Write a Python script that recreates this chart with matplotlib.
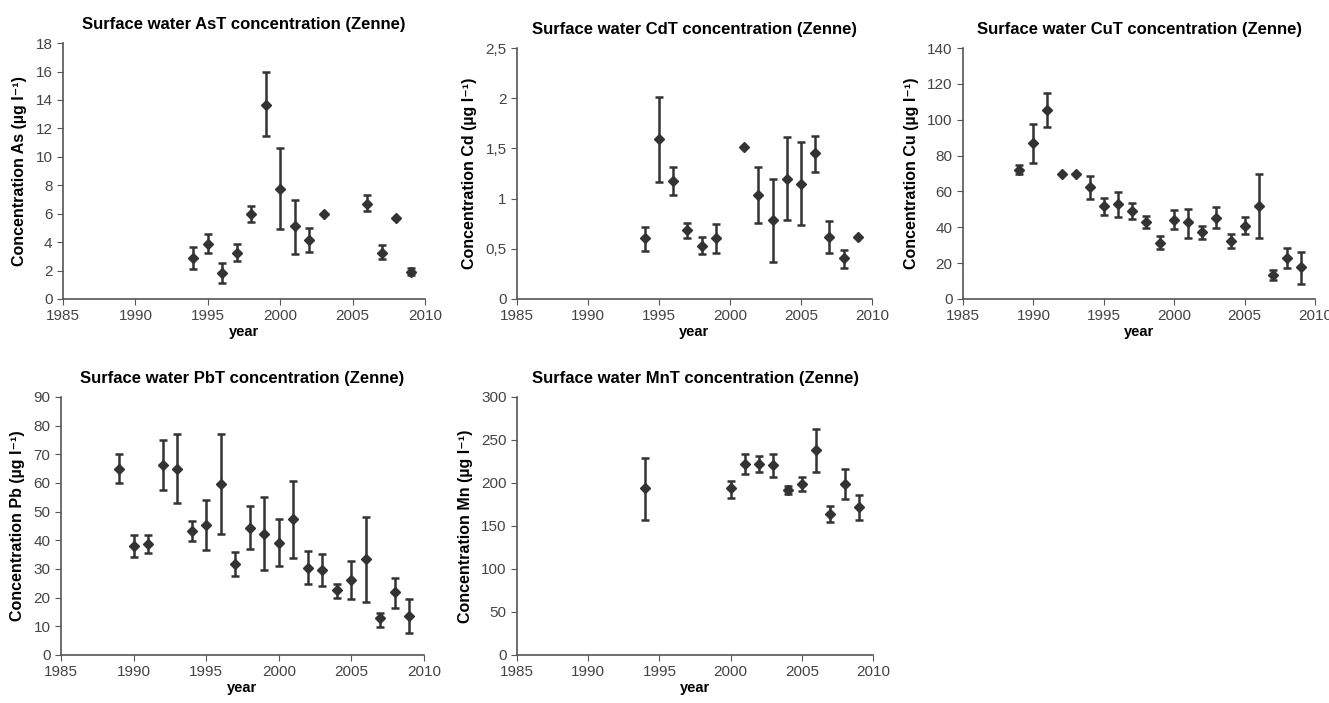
import matplotlib
matplotlib.use("Agg")
import matplotlib.pyplot as plt
from matplotlib.ticker import FuncFormatter

plt.rcParams['font.family'] = ['Liberation Sans', 'DejaVu Sans']

# As (ug/l)
as_years = [1994, 1995, 1996, 1997, 1998, 1999, 2000, 2001, 2002, 2003, 2006, 2007, 2008, 2009]
as_mean = [2.86, 3.85, 1.8, 3.2, 6.0, 13.64, 7.77, 5.1, 4.15, 6.0, 6.7, 3.26, 5.73, 1.92]
as_hi = [3.64, 4.55, 2.56, 3.87, 6.57, 15.94, 10.6, 6.97, 4.98, 6.0, 7.28, 3.8, 5.73, 2.2]
as_lo = [2.11, 3.2, 1.1, 2.7, 5.4, 11.43, 4.95, 3.17, 3.29, 6.0, 6.22, 2.8, 5.73, 1.7]

# Cd
cd_years = [1994, 1995, 1996, 1997, 1998, 1999, 2001, 2002, 2003, 2004, 2005, 2006, 2007, 2008, 2009]
cd_mean = [0.61, 1.59, 1.18, 0.69, 0.53, 0.61, 1.51, 1.04, 0.79, 1.20, 1.15, 1.45, 0.62, 0.41, 0.62]
cd_hi = [0.72, 2.01, 1.31, 0.76, 0.62, 0.75, 1.51, 1.31, 1.20, 1.61, 1.56, 1.62, 0.78, 0.49, 0.62]
cd_lo = [0.48, 1.17, 1.04, 0.61, 0.45, 0.46, 1.51, 0.76, 0.37, 0.79, 0.74, 1.26, 0.46, 0.31, 0.62]

# Cu
cu_years = [1989, 1990, 1991, 1992, 1993, 1994, 1995, 1996, 1997, 1998, 1999,
            2000, 2001, 2002, 2003, 2004, 2005, 2006, 2007, 2008, 2009]
cu_mean = [72.2, 87.1, 105.6, 69.8, 69.8, 62.2, 52.0, 52.9, 49.2, 43.1, 31.0,
           44.0, 42.7, 37.1, 44.9, 32.3, 40.8, 51.8, 13.4, 23.0, 18.0]
cu_hi = [74.6, 97.8, 115.1, 69.8, 69.8, 68.7, 56.6, 59.8, 53.7, 46.2, 35.1,
         49.6, 50.1, 40.7, 51.1, 36.0, 45.9, 70.0, 16.2, 28.6, 26.4]
cu_lo = [70.0, 75.9, 96.0, 69.8, 69.8, 55.5, 46.8, 45.5, 44.4, 39.7, 27.7,
         38.8, 34.2, 33.6, 39.4, 28.6, 36.0, 33.8, 10.6, 17.1, 8.4]

# Pb
pb_years = [1989, 1990, 1991, 1992, 1993, 1994, 1995, 1996, 1997, 1998, 1999,
            2000, 2001, 2002, 2003, 2004, 2005, 2006, 2007, 2008, 2009]
pb_mean = [65.0, 38.1, 38.7, 66.4, 65.0, 43.1, 45.4, 59.7, 31.7, 44.2, 42.3,
           39.2, 47.5, 30.5, 29.5, 22.7, 26.2, 33.4, 12.8, 21.9, 13.6]
pb_hi = [70.1, 41.7, 41.7, 75.1, 77.2, 46.7, 53.9, 77.2, 35.9, 51.8, 55.2,
         47.4, 60.8, 36.2, 35.3, 24.6, 32.8, 48.3, 14.8, 27.0, 19.4]
pb_lo = [60.0, 34.3, 35.5, 57.4, 53.0, 39.6, 36.7, 42.3, 27.4, 36.9, 29.7,
         30.9, 34.0, 24.7, 24.1, 20.0, 19.4, 18.6, 9.9, 16.5, 7.6]

# Mn
mn_years = [1994, 2000, 2001, 2002, 2003, 2004, 2005, 2006, 2007, 2008, 2009]
mn_mean = [193.6, 193.6, 221.8, 221.8, 220.7, 191.6, 199.4, 238.1, 163.8, 198.6, 171.5]
mn_hi = [229.6, 202.1, 233.4, 231.1, 233.4, 196.7, 207.1, 263.3, 173.8, 216.8, 185.8]
mn_lo = [156.8, 183.1, 210.2, 212.5, 207.1, 187.0, 190.9, 212.9, 154.5, 180.8, 156.8]

panels = [
    ("Surface water AsT concentration (Zenne)", "Concentration As (µg l⁻¹)",
     as_years, as_mean, as_hi, as_lo, 18, 2, [0.0474, 0.5747, 0.2724, 0.364]),
    ("Surface water CdT concentration (Zenne)", "Concentration Cd (µg l⁻¹)",
     cd_years, cd_mean, cd_hi, cd_lo, 2.5, 0.5, [0.389, 0.5747, 0.2671, 0.357]),
    ("Surface water CuT concentration (Zenne)", "Concentration Cu (µg l⁻¹)",
     cu_years, cu_mean, cu_hi, cu_lo, 140, 20, [0.7246, 0.5747, 0.2649, 0.357]),
    ("Surface water PbT concentration (Zenne)", "Concentration Pb (µg l⁻¹)",
     pb_years, pb_mean, pb_hi, pb_lo, 90, 10, [0.0459, 0.0683, 0.2731, 0.367]),
    ("Surface water MnT concentration (Zenne)", "Concentration Mn (µg l⁻¹)",
     mn_years, mn_mean, mn_hi, mn_lo, 300, 50, [0.389, 0.0683, 0.2679, 0.367]),
]

def comma_fmt(v, pos):
    s = ("%g" % v)
    return s.replace(".", ",")

fig = plt.figure(figsize=(13.29, 7.03), dpi=100)
for title, ylab, yrs, mean, hi, lo, ymax, ystep, rect in panels:
    ax = fig.add_axes(rect)
    err = [[m - l for m, l in zip(mean, lo)], [h - m for m, h in zip(mean, hi)]]
    ax.errorbar(yrs, mean, yerr=err, fmt='D', color='#333333', ms=5.5,
                ecolor='#333333', elinewidth=1.8, capsize=3, capthick=1.8)
    ax.set_xlim(1985, 2010)
    ax.set_ylim(0, ymax)
    ax.set_xticks(range(1985, 2011, 5))
    ticks = [i * ystep for i in range(int(round(ymax / ystep)) + 1)]
    ax.set_yticks(ticks)
    ax.yaxis.set_major_formatter(FuncFormatter(comma_fmt))
    for s in ['top', 'right']:
        ax.spines[s].set_visible(False)
    for s in ['left', 'bottom']:
        ax.spines[s].set_color('#555555')
        ax.spines[s].set_linewidth(1.2)
    ax.tick_params(direction='out', length=4, color='#555555', labelsize=11,
                   labelcolor='#444444')
    ax.set_title(title, fontsize=12, fontweight='bold', pad=10)
    ax.set_xlabel("year", fontsize=10.5, fontweight='bold', labelpad=1)
    ax.set_ylabel(ylab, fontsize=11.5, fontweight='bold', labelpad=6)

fig.savefig("out.png", dpi=100)
